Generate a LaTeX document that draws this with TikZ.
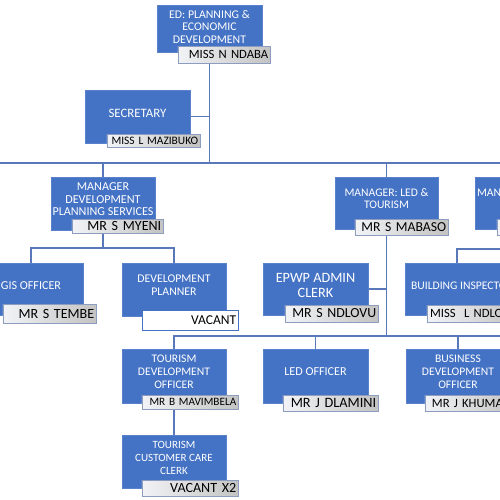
\documentclass[tikz,border=0pt]{standalone}
\usepackage{fontspec}
\setmainfont{Carlito}
\usetikzlibrary{backgrounds}
\definecolor{boxblue}{HTML}{4472C4}
\definecolor{boxedge}{HTML}{5A82CC}
\definecolor{linkblue}{HTML}{5878BA}
\definecolor{namelight}{HTML}{F2F3F6}
\definecolor{namegray}{HTML}{C3C3C3}
\definecolor{nameedge}{HTML}{8C9DC0}
\tikzstyle{posbox}=[draw=boxedge,fill=boxblue,minimum width=2.08cm,minimum height=1.06cm,inner sep=0pt]
\tikzstyle{boxtext}=[text=white,align=center,inner sep=0pt,font=\fontsize{6.8}{7.3}\selectfont]
\tikzstyle{namebox}=[draw=nameedge,left color=namelight,right color=namegray,align=right,text width=1.79cm,minimum height=0.32cm,inner xsep=1pt,inner ysep=0pt,font=\fontsize{8}{8}\selectfont]
\tikzstyle{vacantbox}=[draw=boxblue,fill=white,align=right,text width=1.85cm,minimum height=0.4cm,inner xsep=1pt,inner ysep=0pt,font=\fontsize{7.7}{8}\selectfont]
\tikzstyle{link}=[draw=linkblue,line width=0.9pt]

\begin{document}
\begin{tikzpicture}[x=0.2mm,y=-0.2mm]
\useasboundingbox (0,0) rectangle (500,500);

% head and secretary
\node[posbox,minimum width=2.1cm,minimum height=0.94cm] (ed) at (209.5,28.5) {};
\node[boxtext,font=\fontsize{6.7}{6.9}\selectfont] (edt) at ([yshift=0.03cm]ed.center) {ED: PLANNING \&\\ECONOMIC\\DEVELOPMENT};
\node[namebox,text width=1.77cm,minimum height=0.34cm,font=\fontsize{7.2}{8}\selectfont] (edn) at (224,54.5) {\mbox{MISS N NDABA}};

\node[posbox,minimum width=2.1cm] (sec) at (137.5,116.5) {};
\node[boxtext,font=\fontsize{7.3}{8}\selectfont] (sect) at ([yshift=0.07cm]sec.center) {SECRETARY};
\node[namebox,minimum height=0.26cm,font=\fontsize{6.5}{7}\selectfont] (secn) at (153.5,140.5) {\mbox{MISS L MAZIBUKO}};

% managers
\node[posbox] (mdps) at (103,203.5) {};
\node[boxtext,font=\fontsize{6.9}{7.1}\selectfont] (mdpst) at ([yshift=0.08cm]mdps.center) {MANAGER\\DEVELOPMENT\\PLANNING SERVICES};
\node[namebox,text width=1.75cm,minimum height=0.28cm] (mdpsn) at (117.5,226) {\mbox{MR S MYENI}};

\node[posbox,minimum width=2.06cm,minimum height=1.04cm] (mled) at (386.5,203) {};
\node[boxtext,font=\fontsize{6.6}{6.6}\selectfont] (mledt) at ([yshift=0.09cm]mled.center) {MANAGER: LED \&\\TOURISM};
\node[namebox,font=\fontsize{7.8}{8}\selectfont] (mledn) at (401.5,227) {\mbox{MR S MABASO}};

\node[posbox,minimum height=1.04cm] (mbc) at (527,203) {};
\node[boxtext,anchor=west,font=\fontsize{6.6}{7}\selectfont] (mbct) at ([xshift=0.04cm,yshift=0.2cm]mbc.west) {MANAGER};
\node[namebox] (mbcn) at (543.5,227) {};

% development planning staff
\node[posbox,minimum height=1.04cm] (gis) at (31,289) {};
\node[boxtext,font=\fontsize{6.9}{7.3}\selectfont] (gist) at ([yshift=0.06cm]gis.center) {GIS OFFICER};
\node[namebox,minimum height=0.38cm] (gisn) at (49.5,313.5) {\mbox{MR S TEMBE}};

\node[posbox] (devp) at (174,289.5) {};
\node[boxtext,font=\fontsize{6.7}{7.4}\selectfont] (devpt) at ([yshift=0.08cm]devp.center) {DEVELOPMENT\\PLANNER};
\node[vacantbox] (devpn) at (190,320) {VACANT};

% led and tourism staff
\node[posbox,minimum width=2.1cm,minimum height=1.04cm] (epwp) at (315.5,289) {};
\node[boxtext,font=\fontsize{8.1}{8.5}\selectfont] (epwpt) at ([yshift=0.07cm]epwp.center) {EPWP ADMIN\\CLERK};
\node[namebox,minimum height=0.34cm,font=\fontsize{7.9}{8.5}\selectfont] (epwpn) at (331.5,313.5) {\mbox{MR S NDLOVU}};

\node[posbox,minimum height=1.04cm] (bi) at (457,289) {};
\node[boxtext,font=\fontsize{6.6}{7}\selectfont] (bit) at ([xshift=0.1cm,yshift=0.06cm]bi.center) {BUILDING INSPECTOR};
\node[namebox,minimum height=0.34cm,font=\fontsize{7.2}{8}\selectfont] (bin) at (473.5,313.5) {\mbox{MISS\ \ L NDLOVU}};

\node[posbox,minimum height=1.08cm] (tdo) at (174,376) {};
\node[boxtext,font=\fontsize{6.6}{7.4}\selectfont] (tdot) at ([yshift=0.08cm]tdo.center) {TOURISM\\DEVELOPMENT\\OFFICER};
\node[namebox,text width=1.85cm,minimum height=0.28cm,font=\fontsize{6.4}{7}\selectfont] (tdon) at (190,402) {\mbox{MR B MAVIMBELA}};

\node[posbox,minimum width=2.1cm,minimum height=1.08cm] (ledo) at (315.5,376) {};
\node[boxtext,font=\fontsize{6.9}{7.3}\selectfont] (ledot) at ([yshift=0.08cm]ledo.center) {LED OFFICER};
\node[namebox,text width=1.83cm,font=\fontsize{8.1}{8.5}\selectfont] (ledon) at (330.5,403) {\mbox{MR J DLAMINI}};

\node[posbox,minimum height=1.08cm] (bdo) at (458,376) {};
\node[boxtext,font=\fontsize{6.6}{7.4}\selectfont] (bdot) at ([yshift=0.08cm]bdo.center) {BUSINESS\\DEVELOPMENT\\OFFICER};
\node[namebox,font=\fontsize{7.2}{8}\selectfont] (bdon) at (471.5,403) {\mbox{MR J KHUMALO}};

\node[posbox] (tcc) at (174,461.5) {};
\node[boxtext,font=\fontsize{6.3}{7.4}\selectfont] (tcct) at ([yshift=0.07cm]tcc.center) {TOURISM\\CUSTOMER CARE\\CLERK};
\node[namebox,text width=1.85cm] (tccn) at (190,488) {\mbox{VACANT X2}};

\coordinate (busL) at (-10,163);
\coordinate (busR) at (510,163);
\coordinate (dpsbus) at (103,248);
\coordinate (bcbus) at (527,249);
\coordinate (ledbus) at (386.5,336);
\coordinate (ledend) at (520,336);

\begin{scope}[on background layer]
\draw[link] (busL) -- (busR);
\draw[link] (ed.south) -- (ed.south |- busL);
\draw[link] (sec.east) -- (sec.east -| ed.south);
\draw[link] (mdps.north) -- (mdps.north |- busL);
\draw[link] (mled.north) -- (mled.north |- busL);
\draw[link] (mbc.north) -- (mbc.north |- busL);
\draw[link] (mdps.south) -- (dpsbus);
\draw[link] (gis.north) |- (dpsbus) -| (devp.north);
\draw[link] (mbc.south) -- (bcbus) -| (bi.north);
\draw[link] (mled.south) -- (ledbus);
\draw[link] (epwp.east) -- (epwp.east -| ledbus);
\draw[link] (tdo.north) |- (ledend);
\draw[link] (ledo.north) -- (ledo.north |- ledbus);
\draw[link] (bdo.north) -- (bdo.north |- ledbus);
\draw[link] (tdo.south) -- (tcc.north);
\end{scope}

\end{tikzpicture}
\end{document}
